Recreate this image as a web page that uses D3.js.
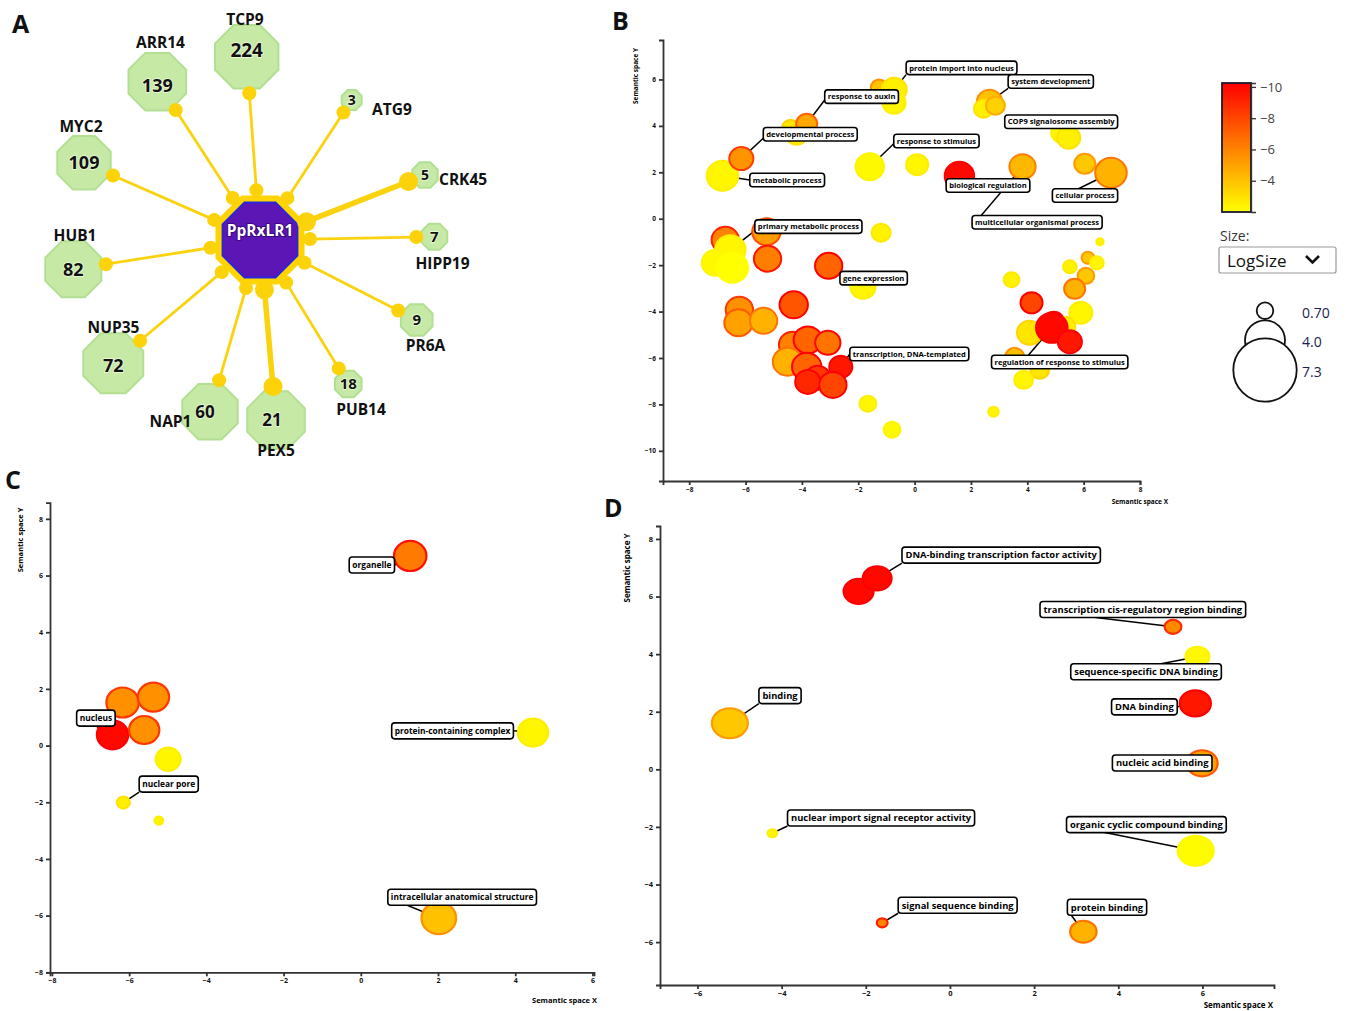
<!DOCTYPE html>
<html>
<head>
<meta charset="utf-8">
<script src="https://cdn.jsdelivr.net/npm/d3@7"></script>
<style>
  body { margin: 0; background: #fff; }
  svg { display: block; font-family: "Open Sans", sans-serif; }
</style>
</head>
<body>
<svg id="fig" width="1350" height="1011"></svg>
<script>
// ---------- Panel A data ----------
const genes      = ["TCP9","ARR14","MYC2","HUB1","NUP35","NAP1","PEX5","PUB14","PR6A","HIPP19","CRK45","ATG9"];
const counts     = [224, 139, 109, 82, 72, 60, 21, 18, 9, 7, 5, 3];
const edgeWeight = [1, 1, 1, 1, 1, 1, 2, 1, 1, 1, 2, 1];

// ---------- Panel B: GO biological process  [x, y, log10 p, logSize] ----------
const goBP = [
  [-6.82, 1.85, -2.3, 7.03], [-6.15, 2.59, -5.5, 5.1], [-4.19, 3.62, -2.5, 4.28], [-4.40, 3.92, -2.8, 3.18],
  [-3.83, 4.09, -4.8, 4.28], [-1.26, 5.65, -4.0, 3.18], [-0.73, 5.56, -2.5, 5.38], [-0.73, 5.0, -2.3, 4.83],
  [-1.59, 2.24, -2.2, 6.2], [0.09, 2.33, -2.3, 4.55], [1.59, 1.85, -10, 6.48], [3.83, 2.24, -4.3, 5.65],
  [6.04, 2.37, -3.8, 4.28], [6.97, 1.98, -4.5, 7.03], [2.66, 5.04, -4.0, 5.38], [2.44, 4.74, -2.5, 3.73],
  [2.87, 4.87, -3.5, 3.73], [5.22, 3.71, -2.3, 4.28], [5.47, 3.49, -2.5, 4.83],
  [-6.72, -0.91, -6.0, 5.93], [-6.54, -1.34, -2.3, 6.75], [-7.07, -1.90, -2.2, 5.93], [-6.47, -2.11, -2.0, 7.03],
  [-5.26, -0.56, -5.2, 6.2], [-5.22, -1.72, -6.2, 5.93], [-3.05, -2.03, -7.0, 5.93], [-1.83, -2.93, -2.3, 5.38],
  [-1.19, -0.60, -2.4, 3.73], [-6.22, -3.92, -5.6, 5.93], [-6.25, -4.48, -5.0, 6.2], [-5.36, -4.40, -4.5, 5.93],
  [-4.29, -3.71, -7.5, 6.2],
  [-4.33, -5.43, -6.0, 5.93], [-3.79, -5.22, -7.0, 6.2], [-3.08, -5.34, -6.5, 5.38], [-4.51, -6.16, -4.5, 6.48],
  [-3.83, -6.38, -7.0, 6.48], [-2.62, -6.38, -9.5, 4.83], [-3.44, -6.85, -8.5, 5.38], [-3.79, -7.03, -9.0, 5.38],
  [-2.90, -7.16, -8.0, 5.93], [-1.66, -7.97, -2.3, 3.18], [-0.80, -9.09, -2.2, 3.18],
  [3.44, -2.63, -2.4, 2.9], [6.58, -0.99, -2.3, 0.7], [6.15, -1.68, -3.8, 2.08], [6.47, -1.90, -2.3, 2.35],
  [5.51, -2.07, -2.4, 2.35], [6.08, -2.46, -3.8, 3.18], [5.68, -3.02, -4.5, 4.28], [5.90, -4.05, -2.3, 4.83],
  [4.15, -3.62, -8.0, 4.55], [4.94, -4.44, -7.0, 4.28], [5.33, -4.66, -2.5, 4.28], [4.08, -4.91, -2.8, 5.38],
  [4.87, -4.70, -10, 7.03], [5.51, -5.30, -9.5, 5.1], [3.55, -5.95, -4.0, 3.73], [4.44, -6.51, -2.8, 3.73],
  [3.87, -6.94, -2.3, 3.73], [2.80, -8.32, -2.3, 1.53]
];
// [text, box x, box y (semantic space), target bubble, leader start fx, fy]
const labelsBP = [
  ["protein import into nucleus", -0.30, 6.50, 6, 0, 1],
  ["system development", 3.32, 5.91, 14, 0, 1],
  ["response to auxin", -3.19, 5.26, 4, 0, 0.75],
  ["COP9 signalosome assembly", 3.20, 4.18, 18, 0.55, 1],
  ["developmental process", -5.37, 3.64, 1, 0, 0.8],
  ["response to stimulus", -0.74, 3.35, 8, 0, 0.7],
  ["metabolic process", -5.85, 1.67, 0, 0, 0.5],
  ["biological regulation", 1.12, 1.43, 10, 0.1, 0],
  ["cellular process", 4.89, 1.0, 13, 0.4, 0],
  ["multicellular organismal process", 2.04, -0.15, 11, 0.07, 0],
  ["primary metabolic process", -5.67, -0.34, 20, 0, 0.8],
  ["gene expression", -2.65, -2.56, 25, 0, 0],
  ["transcription, DNA-templated", -2.30, -5.83, 37, 0, 0.5],
  ["regulation of response to stimulus", 2.73, -6.17, 55, 0.27, 0]
];

// ---------- Panel C: GO cellular component ----------
const goCC = [
  [-6.43, 0.38, -10, 6.32], [-6.17, 1.52, -5.6, 6.57], [-5.37, 1.71, -5.6, 6.32], [-5.61, 0.55, -5.6, 6.08],
  [-4.99, -0.48, -2.3, 4.86], [-6.15, -2.01, -2.5, 2.17], [-5.23, -2.65, -2.3, 1.19],
  [1.28, 6.69, -6.3, 6.57], [4.46, 0.46, -2.3, 6.08], [2.02, -6.09, -4.0, 7.06]
];
const labelsCC = [
  ["nucleus", -7.36, 0.97, 0, 0.5, 1],
  ["nuclear pore", -5.74, -1.36, 5, 0, 1],
  ["organelle", -0.30, 6.37, 7, 1, 0.5],
  ["protein-containing complex", 0.80, 0.52, 8, 1, 0.5],
  ["intracellular anatomical structure", 0.70, -5.35, 9, 0.13, 1]
];

// ---------- Panel D: GO molecular function ----------
const goMF = [
  [-2.17, 6.18, -10, 5.52], [-1.73, 6.63, -10, 5.27], [-5.23, 1.60, -3.8, 6.79], [-4.22, -2.22, -2.3, 1.21],
  [-1.61, -5.33, -6.0, 1.46], [5.30, 4.95, -5.8, 2.73], [5.88, 3.91, -2.2, 4.25], [5.83, 2.29, -9.5, 5.78],
  [5.99, 0.21, -5.0, 5.78], [5.84, -2.83, -2.1, 6.79], [3.17, -5.64, -4.5, 4.76]
];
const labelsMF = [
  ["DNA-binding transcription factor activity", -1.14, 7.44, 1, 0, 1],
  ["transcription cis-regulatory region binding", 2.14, 5.55, 5, 0.27, 1],
  ["sequence-specific DNA binding", 2.87, 3.39, 6, 0.6, 0],
  ["DNA binding", 3.84, 2.17, 7, 1, 0.5],
  ["nucleic acid binding", 3.86, 0.22, 8, 1, 0.5],
  ["organic cyclic compound binding", 2.77, -1.92, 9, 0.24, 1],
  ["protein binding", 2.79, -4.79, 10, 0.05, 1],
  ["binding", -4.54, 2.56, 2, 0, 1],
  ["nuclear import signal receptor activity", -3.86, -1.69, 3, 0, 1],
  ["signal sequence binding", -1.23, -4.72, 4, 0, 1]
];

// legend values
const colorTicks = [-10, -8, -6, -4];
const sizeLegend = [0.7, 4.0, 7.3];

const svg = d3.select("#fig");

// ---------- Scales shared by the bubble plots ----------
const color = d3.scaleLinear([-10.25, -2], ["#ff0000", "#ffff00"]).clamp(true);
const rim = v => color(v + 0.8 * (v + 2));

function octPath(a) {
  const R = a / Math.cos(Math.PI / 8);
  return d3.line().curve(d3.curveLinearClosed)(
    d3.range(8).map(k => {
      const t = Math.PI / 8 + k * Math.PI / 4;
      return [R * Math.cos(t), R * Math.sin(t)];
    }));
}

// ---------- Panel A: network ----------
const hub = {x: 260, y: 240, a: 41};
// node layout in px: centre, apothem, number font, number offset, label position
const layoutA = [
  {x: 246.7, y: 56.7, a: 31.7, fs: 19, ndy: -7, lx: 245, ly: 25, anc: "middle"},
  {x: 157.3, y: 81.7, a: 28.8, fs: 18, ndy: 3.5, lx: 160.5, ly: 48, anc: "middle"},
  {x: 84, y: 162.7, a: 26.7, fs: 18, lx: 81, ly: 131.5, anc: "middle"},
  {x: 73.3, y: 269.3, a: 28, fs: 18, lx: 75, ly: 240.5, anc: "middle"},
  {x: 113.3, y: 363.3, a: 30, fs: 18, ndy: 2, lx: 113.5, ly: 332.5, anc: "middle"},
  {x: 210, y: 411.7, a: 27.7, fs: 17, ndx: -5, lx: 170.5, ly: 426.5, anc: "middle"},
  {x: 276, y: 420, a: 28.7, fs: 17, ndx: -4, lx: 276, ly: 456, anc: "middle"},
  {x: 348.3, y: 384, a: 13.3, fs: 15, lx: 361, ly: 415, anc: "middle"},
  {x: 416.7, y: 320, a: 15.8, fs: 15, lx: 425.5, ly: 350.5, anc: "middle"},
  {x: 434.3, y: 236.7, a: 13, fs: 15, lx: 442.5, ly: 269, anc: "middle"},
  {x: 425, y: 175, a: 12.7, fs: 14, lx: 439, ly: 185, anc: "start"},
  {x: 351.7, y: 100, a: 10, fs: 14, lx: 372, ly: 115, anc: "start"}
];

const nodes = genes.map((name, i) => {
  const d = {name, count: counts[i], w: edgeWeight[i], ndx: 0, ndy: 0, ...layoutA[i]};
  const dx = d.x - hub.x, dy = d.y - hub.y, L = Math.hypot(dx, dy);
  d.p1 = [hub.x + dx / L * 50, hub.y + dy / L * 50];
  d.p2 = [d.x - dx / L * (d.a + 5), d.y - dy / L * (d.a + 5)];
  return d;
});

const gA = svg.append("g");
gA.selectAll("path.sat").data(nodes).join("path")
  .attr("class", "sat")
  .attr("transform", d => `translate(${d.x},${d.y})`)
  .attr("d", d => octPath(d.a))
  .attr("fill", "#c6e9a6").attr("stroke", "#b3df93").attr("stroke-width", 2);

gA.append("path").attr("transform", `translate(${hub.x},${hub.y})`)
  .attr("d", octPath(hub.a)).attr("fill", "#5c16b5")
  .attr("stroke", "#ffd400").attr("stroke-width", 7);
gA.append("path").attr("transform", `translate(${hub.x},${hub.y})`)
  .attr("d", octPath(hub.a - 3.5)).attr("fill", "none")
  .attr("stroke", "#2626e0").attr("stroke-width", 1.8);

gA.selectAll("line.edge").data(nodes).join("line")
  .attr("x1", d => d.p1[0]).attr("y1", d => d.p1[1])
  .attr("x2", d => d.p2[0]).attr("y2", d => d.p2[1])
  .attr("stroke", "#fbd20e").attr("stroke-width", d => d.w > 1 ? 5.5 : 2.8);

gA.selectAll("circle.dot").data(nodes.flatMap(d => [{p: d.p1, w: d.w}, {p: d.p2, w: d.w}])).join("circle")
  .attr("cx", d => d.p[0]).attr("cy", d => d.p[1])
  .attr("r", d => d.w > 1 ? 9.5 : 7).attr("fill", "#fcd20a");

gA.append("text").attr("x", hub.x).attr("y", hub.y - 9).attr("dy", "0.35em")
  .attr("text-anchor", "middle").attr("font-size", 15.5).attr("font-weight", 700)
  .attr("fill", "#fff").attr("stroke", "#3a0a80").attr("stroke-width", 2)
  .attr("paint-order", "stroke").text("PpRxLR1");

gA.selectAll("text.num").data(nodes).join("text")
  .attr("x", d => d.x + d.ndx).attr("y", d => d.y + d.ndy).attr("dy", "0.36em")
  .attr("text-anchor", "middle").attr("font-size", d => d.fs).attr("font-weight", 700)
  .attr("fill", "#111").attr("stroke", "#effbe0").attr("stroke-width", 1.5)
  .attr("paint-order", "stroke").text(d => d.count);

gA.selectAll("text.gene").data(nodes).join("text")
  .attr("x", d => d.lx).attr("y", d => d.ly)
  .attr("text-anchor", d => d.anc).attr("font-size", 15.5).attr("font-weight", 700)
  .attr("fill", "#111").text(d => d.name);

// ---------- Bubble plots (B, C, D) ----------
function scatter(cfg) {
  const g = svg.append("g");
  const x = d3.scaleLinear(cfg.xDomain, cfg.xRange);
  const y = d3.scaleLinear(cfg.yDomain, cfg.yRange);
  const r = d3.scaleLinear([0.7, 7.3], cfg.rRange);
  const fmt = d3.format("d");

  const ax = g.append("g").attr("transform", `translate(0,${cfg.yRange[0]})`)
    .call(d3.axisBottom(x).tickValues(cfg.xTicks).tickFormat(fmt).tickSize(4).tickPadding(2));
  const ay = g.append("g").attr("transform", `translate(${cfg.xRange[0]},0)`)
    .call(d3.axisLeft(y).tickValues(cfg.yTicks).tickFormat(fmt).tickSize(4).tickPadding(3));
  [ax, ay].forEach(a => {
    a.attr("font-family", "Open Sans").attr("font-size", cfg.tickFont).attr("font-weight", 700);
    a.selectAll(".domain, .tick line").attr("stroke", "#333").attr("stroke-width", 1.8);
    a.selectAll("text").attr("fill", "#111");
  });

  g.append("text")
    .attr("transform", `translate(${cfg.yTitle[0]},${cfg.yTitle[1]}) rotate(-90)`)
    .attr("text-anchor", "middle").attr("dy", "0.35em")
    .attr("font-size", cfg.titleFont).attr("font-weight", 700).text("Semantic space Y");
  g.append("text").attr("x", cfg.xTitle[0]).attr("y", cfg.xTitle[1])
    .attr("text-anchor", "end")
    .attr("font-size", cfg.titleFont).attr("font-weight", 700).text("Semantic space X");

  const gLines = g.append("g"), gBub = g.append("g"), gLab = g.append("g");

  gBub.selectAll("ellipse").data(cfg.data).join("ellipse")
    .attr("cx", d => x(d[0])).attr("cy", d => y(d[1]))
    .attr("rx", d => r(d[3]) * cfg.aspect).attr("ry", d => r(d[3]))
    .attr("fill", d => color(d[2]))
    .attr("stroke", d => rim(d[2])).attr("stroke-width", cfg.rimW);

  cfg.labels.forEach(([txt, lx, ly, ti, fx, fy]) => {
    const bx = x(lx), by = y(ly) - cfg.boxH / 2;
    const rect = gLab.append("rect");
    const t = gLab.append("text").attr("x", bx + cfg.pad).attr("y", y(ly)).attr("dy", "0.36em")
      .attr("font-size", cfg.labelFont).attr("font-weight", 700).attr("fill", "#000").text(txt);
    const w = t.node().getComputedTextLength() + 2 * cfg.pad;
    rect.attr("x", bx).attr("y", by).attr("width", w).attr("height", cfg.boxH)
      .attr("rx", 3).attr("fill", "#fff").attr("stroke", "#000").attr("stroke-width", 1.6);
    const d = cfg.data[ti];
    gLines.append("line")
      .attr("x1", bx + fx * w).attr("y1", by + fy * cfg.boxH)
      .attr("x2", x(d[0])).attr("y2", y(d[1]))
      .attr("stroke", "#000").attr("stroke-width", 1.5);
  });
}

scatter({
  data: goBP, labels: labelsBP,
  xDomain: [-8.93, 8.0], xRange: [663, 1140], yDomain: [-11.3, 7.7], yRange: [481, 40],
  xTicks: d3.range(-8, 9, 2), yTicks: d3.range(-10, 7, 2),
  rRange: [3.5, 15.5], aspect: 1.05, rimW: 2,
  tickFont: 6.5, labelFont: 7.6, titleFont: 6.5, boxH: 13.5, pad: 3,
  yTitle: [636, 76], xTitle: [1168, 504]
});

scatter({
  data: goCC, labels: labelsCC,
  xDomain: [-8.05, 6.04], xRange: [50, 594], yDomain: [-8, 8.57], yRange: [972.3, 502.7],
  xTicks: d3.range(-8, 7, 2), yTicks: d3.range(-8, 9, 2),
  rRange: [3, 16.5], aspect: 1.08, rimW: 2.2,
  tickFont: 7, labelFont: 8.4, titleFont: 7.5, boxH: 16, pad: 3,
  yTitle: [20, 540], xTitle: [597, 1003]
});

scatter({
  data: goMF, labels: labelsMF,
  xDomain: [-6.89, 7.7], xRange: [660, 1274], yDomain: [-7.49, 8.45], yRange: [985, 526],
  xTicks: d3.range(-6, 7, 2), yTicks: d3.range(-6, 9, 2),
  rRange: [3, 16], aspect: 1.2, rimW: 2.2,
  tickFont: 7.5, labelFont: 9.4, titleFont: 8, boxH: 16, pad: 3.5,
  yTitle: [627, 568], xTitle: [1273, 1008]
});

// ---------- Panel B legend ----------
const gL = svg.append("g");
const grad = svg.append("defs").append("linearGradient").attr("id", "cbar")
  .attr("x1", 0).attr("y1", 0).attr("x2", 0).attr("y2", 1);
const cbar = d3.scaleLinear([-10.25, -2], [83, 212]);
d3.range(0, 1.0001, 0.1).forEach(t => {
  grad.append("stop").attr("offset", t).attr("stop-color", color(-10.25 + t * 8.25));
});
gL.append("rect").attr("x", 1222).attr("y", cbar.range()[0]).attr("width", 29)
  .attr("height", cbar.range()[1] - cbar.range()[0])
  .attr("fill", "url(#cbar)").attr("stroke", "#1a1a2a").attr("stroke-width", 1.8);
const cax = gL.append("g").attr("transform", "translate(1251,0)")
  .call(d3.axisRight(cbar).tickValues(colorTicks).tickSize(5).tickSizeOuter(5).tickPadding(4));
cax.attr("font-family", "Open Sans").attr("font-size", 13);
cax.selectAll(".domain, .tick line").attr("stroke", "#333").attr("stroke-width", 1.3);
cax.selectAll("text").attr("fill", "#444");

gL.append("text").attr("x", 1220).attr("y", 241).attr("font-size", 14).attr("fill", "#333").text("Size:");
gL.append("rect").attr("x", 1219).attr("y", 247).attr("width", 117).attr("height", 26)
  .attr("rx", 2).attr("fill", "#fff").attr("stroke", "#9a9a9a").attr("stroke-width", 1.2);
gL.append("text").attr("x", 1227).attr("y", 267).attr("font-size", 17).attr("fill", "#111").text("LogSize");
gL.append("path").attr("d", "M1306,256 L1312.5,262.5 L1319,256")
  .attr("fill", "none").attr("stroke", "#111").attr("stroke-width", 2.6);

const legR = d3.scaleLinear([0.7, 7.3], [8.3, 31.7]);
const legY = d3.scaleLinear([0.7, 7.3], [310.7, 370]);
gL.selectAll("circle.leg").data(sizeLegend).join("circle")
  .attr("cx", 1265).attr("cy", d => legY(d)).attr("r", d => legR(d))
  .attr("fill", "#fff").attr("stroke", "#111").attr("stroke-width", 1.8);
gL.selectAll("text.leg").data(sizeLegend).join("text")
  .attr("x", 1302).attr("y", d => legY(d) + 2).attr("dy", "0.35em")
  .attr("font-size", 14).attr("fill", "#1c1c50")
  .text(d => d < 1 ? d3.format(".2f")(d) : d3.format(".1f")(d));

// ---------- Panel letters ----------
const letters = [["A", 12, 33], ["B", 612, 30], ["C", 5, 489], ["D", 604, 517]];
svg.selectAll("text.letter").data(letters).join("text")
  .attr("x", d => d[1]).attr("y", d => d[2])
  .attr("font-size", 25).attr("font-weight", 700).attr("fill", "#111").text(d => d[0]);
</script>
</body>
</html>
